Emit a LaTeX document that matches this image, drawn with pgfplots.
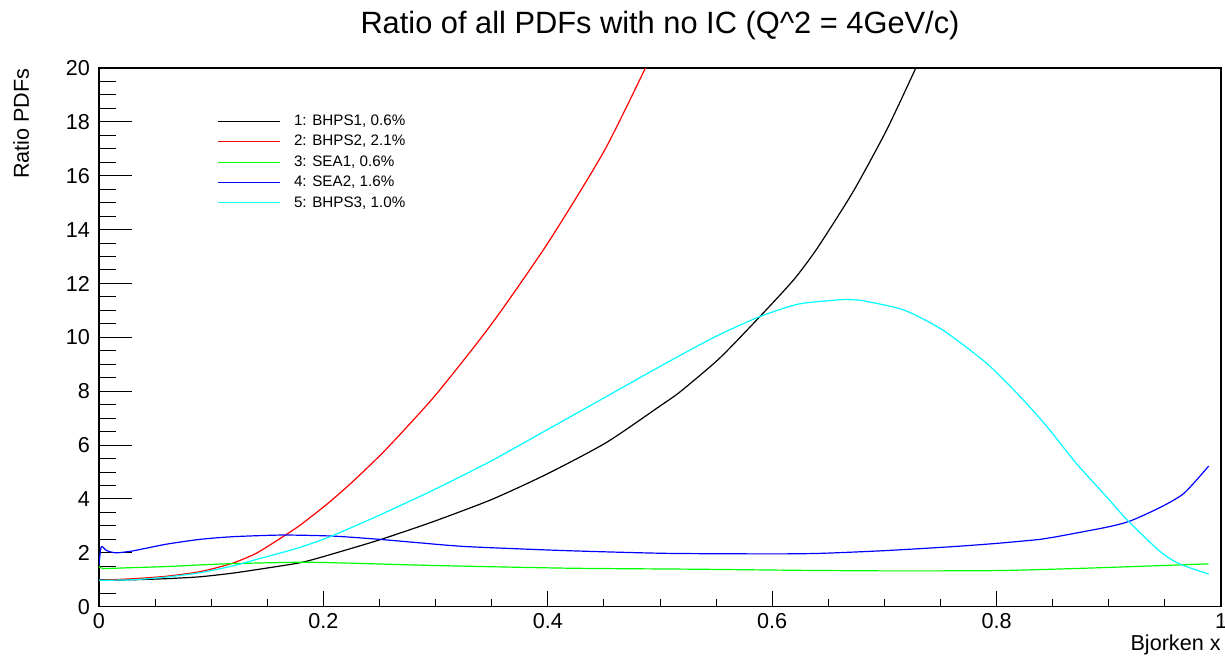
\documentclass[border=0pt]{standalone}
\usepackage{fontspec}
\setmainfont{Liberation Sans}
\usepackage{graphicx}
\usepackage{pgfplots}
\pgfplotsset{compat=1.18}
\definecolor{rblack}{rgb}{0,0,0}
\definecolor{rred}{rgb}{1,0,0}
\definecolor{rgreen}{rgb}{0,1,0}
\definecolor{rblue}{rgb}{0,0,1}
\definecolor{rcyan}{rgb}{0,1,1}
\pgfplotsset{
  base/.style={
    at={(49.5pt,24.65pt)}, anchor=south west,
    width=561pt, height=269.35pt, scale only axis,
    xmin=0, xmax=1, ymin=0, ymax=20,
    axis line style={line width=0.6pt, black},
    tick style={line width=0.5pt, black},
    tick align=inside,
    /pgf/number format/assume math mode=true,
    tick label style={font=\fontsize{10.8}{13}\selectfont},
  }
}
\begin{document}
\begin{tikzpicture}
\useasboundingbox (0,0) rectangle (612.5pt,328pt);
% x ticks
\begin{axis}[base,
  xtick={0,0.2,0.4,0.6,0.8,1},
  xticklabels={0,0.2,0.4,0.6,0.8,1},
  minor x tick num=3,
  ytick=\empty,
  xtick pos=left,
  major tick length=7.8pt, minor tick length=4pt,
]
\end{axis}
% y ticks, curves
\begin{axis}[base,
  ytick={0,2,...,20},
  minor y tick num=3,
  xtick=\empty,
  ytick pos=left,
  major tick length=16.5pt, minor tick length=8.5pt,
  yticklabel style={xshift=-1pt},
  title={Ratio of all PDFs with no IC (Q\textasciicircum 2 = 4GeV/c)},
  every axis title shift=0pt,
  title style={at={(axis description cs:0.5,1.064)}, anchor=base, inner sep=0pt, font=\fontsize{15.4}{18}\selectfont},
  xlabel={Bjorken x},
  every axis x label/.style={at={(axis description cs:1,-0.0822)}, anchor=base east, inner sep=0pt, font=\fontsize{10.8}{13}\selectfont},
  ylabel={Ratio PDFs},
  every axis y label/.style={at={(axis description cs:-0.0624,1)}, rotate=90, anchor=base east, inner sep=0pt, font=\fontsize{10.8}{13}\selectfont},
  legend style={at={(axis description cs:0.106,0.9137)}, anchor=north west, draw=none, fill=none,
    inner sep=0pt, outer sep=0pt, row sep=3.4pt, column sep=6.5pt,
    font=\fontsize{7.6}{9}\selectfont,
    nodes={inner sep=0pt, text height=5.5pt, text depth=1.3pt}},
  legend cell align=left,
  legend image code/.code={\draw[#1, line width=0.55pt] (0pt,0pt) -- (31pt,0pt);},
]
\addplot[rblack, line width=0.6pt, smooth, tension=0.4] coordinates {
(0,0.98)(0.03,1.0)(0.06,1.04)(0.09,1.11)(0.12,1.25)(0.149,1.43)(0.179,1.63)(0.20,1.86)(0.25,2.48)(0.298,3.16)(0.35,3.98)(0.399,4.92)(0.452,6.09)(0.50,7.45)(0.518,7.98)(0.553,9.22)(0.589,10.77)(0.619,12.13)(0.640,13.3)(0.672,15.4)(0.702,17.7)(0.728,20.0)};
\addlegendentry{1: BHPS1, 0.6\%}
\addplot[rred, line width=0.6pt, smooth, tension=0.4] coordinates {
(0,0.98)(0.031,1.04)(0.06,1.13)(0.09,1.30)(0.118,1.6)(0.14,1.98)(0.164,2.6)(0.18,3.05)(0.203,3.8)(0.225,4.6)(0.256,5.85)(0.30,7.86)(0.35,10.5)(0.40,13.5)(0.45,16.9)(0.487,20)};
\addlegendentry{2: BHPS2, 2.1\%}
\addplot[rgreen, line width=0.6pt, smooth, tension=0.4] coordinates {
(0,1.5)(0.004,1.42)(0.03,1.45)(0.06,1.49)(0.09,1.55)(0.12,1.6)(0.18,1.65)(0.22,1.62)(0.298,1.53)(0.417,1.43)(0.535,1.39)(0.624,1.35)(0.7,1.33)(0.8,1.34)(0.88,1.43)(0.989,1.59)};
\addlegendentry{3: SEA1, 0.6\%}
\addplot[rblue, line width=0.6pt, smooth, tension=0.4] coordinates {
(0,1.55)(0.002,2.22)(0.007,2.08)(0.015,2.0)(0.03,2.07)(0.06,2.32)(0.09,2.5)(0.12,2.6)(0.164,2.66)(0.209,2.62)(0.25,2.5)(0.286,2.37)(0.328,2.23)(0.417,2.08)(0.506,1.98)(0.6,1.96)(0.643,1.98)(0.70,2.08)(0.761,2.23)(0.80,2.35)(0.839,2.5)(0.851,2.58)(0.898,2.95)(0.919,3.18)(0.946,3.69)(0.967,4.21)(0.989,5.22)};
\addlegendentry{4: SEA2, 1.6\%}
\addplot[rcyan, line width=0.6pt, smooth, tension=0.4] coordinates {
(0,0.98)(0.03,1.0)(0.06,1.1)(0.09,1.26)(0.12,1.52)(0.14,1.75)(0.164,2.02)(0.179,2.2)(0.206,2.6)(0.25,3.4)(0.298,4.33)(0.35,5.42)(0.399,6.56)(0.45,7.75)(0.497,8.85)(0.548,10.0)(0.589,10.77)(0.624,11.24)(0.666,11.41)(0.678,11.38)(0.717,11.02)(0.752,10.27)(0.791,9.04)(0.821,7.80)(0.845,6.68)(0.871,5.32)(0.898,4.08)(0.917,3.19)(0.946,2.04)(0.963,1.59)(0.989,1.21)};
\addlegendentry{5: BHPS3, 1.0\%}
\end{axis}
\end{tikzpicture}
\end{document}
